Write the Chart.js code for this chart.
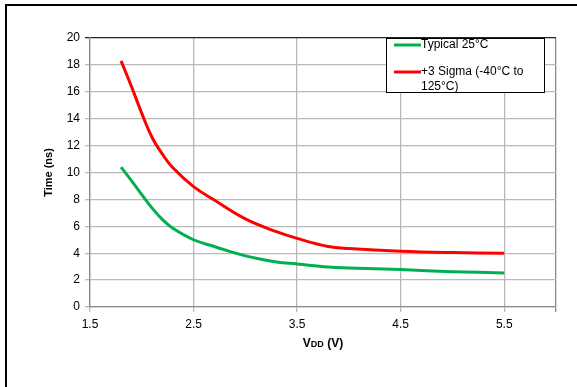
<!DOCTYPE html>
<html>
<head>
<meta charset="utf-8">
<script src="https://cdn.jsdelivr.net/npm/chart.js@4.4.0/dist/chart.umd.min.js"></script>
<style>
	html, body { margin: 0; padding: 0; background: #fff; }
	#wrap { position: relative; width: 577px; height: 387px; }
</style>
</head>
<body>
<div id="wrap"><canvas id="myChart"></canvas></div>
<script>
(() => {
	"use strict";

	// Data
	const vdd = [1.8, 1.9, 2.0, 2.1, 2.2, 2.3, 2.5, 2.7, 3.0, 3.3, 3.5, 3.8, 4.0, 4.5, 5.0, 5.5];
	const typical = [10.4, 9.4, 8.35, 7.35, 6.5, 5.85, 5.0, 4.5, 3.8, 3.35, 3.2, 2.97, 2.9, 2.78, 2.63, 2.53];
	const sigma = [18.3, 16.4, 14.4, 12.6, 11.35, 10.35, 8.95, 7.95, 6.55, 5.6, 5.1, 4.5, 4.35, 4.15, 4.05, 4.0];
	const xTicks = [1.5, 2.5, 3.5, 4.5, 5.5, 6];
	const legendLines = [["Typical 25°C"], ["+3 Sigma (-40°C to", "125°C)"]];

	const FONT = "'Liberation Sans', Arial, sans-serif";
	const GRID = "#bababa";
	const AXIS = "#8a8a8a";

	const points = (ys) => vdd.map((x, i) => ({ x: x, y: ys[i] }));

	// frame, legend and the VDD title
	const extras = {
		id: "extras",
		afterDraw(chart) {
			const c = chart.ctx;
			const area = chart.chartArea;
			c.save();

			// outer frame
			c.strokeStyle = "#000";
			c.lineWidth = 2;
			c.beginPath();
			c.moveTo(6, 387);
			c.lineTo(6, 5);
			c.lineTo(577, 5);
			c.stroke();

			// x title: V + small DD + (V)
			c.fillStyle = "#000";
			c.textBaseline = "alphabetic";
			const parts = [["V", "bold 12px " + FONT], ["DD", "bold 9px " + FONT], [" (V)", "bold 12px " + FONT]];
			let w = 0;
			parts.forEach((p) => { c.font = p[1]; w += c.measureText(p[0]).width; });
			let x = (area.left + area.right) / 2 - w / 2;
			parts.forEach((p) => {
				c.font = p[1];
				c.fillText(p[0], x, 347);
				x += c.measureText(p[0]).width;
			});

			// legend box
			const bx = 386, by = 38, bw = 158, bh = 54;
			c.fillStyle = "#fff";
			c.fillRect(bx, by, bw, bh);
			c.strokeStyle = "#000";
			c.lineWidth = 1;
			c.strokeRect(bx + 0.5, by + 0.5, bw, bh);
			c.font = "12px " + FONT;
			c.textBaseline = "middle";
			const rows = [45, 72];
			chart.data.datasets.forEach((ds, i) => {
				const y = rows[i];
				c.strokeStyle = ds.borderColor;
				c.lineWidth = 3;
				c.beginPath();
				c.moveTo(394, y);
				c.lineTo(421, y);
				c.stroke();
				c.fillStyle = "#000";
				legendLines[i].forEach((t, k) => c.fillText(t, 421, y + k * 14.5));
			});
			c.restore();
		},
	};

	const ctx = document.getElementById("myChart");
	// eslint-disable-next-line no-unused-vars
	const myChart = new Chart(ctx, {
		type: "line",
		data: {
			datasets: [
				{
					label: legendLines[0].join(" "),
					data: points(typical),
					borderColor: "#00b050",
					borderWidth: 3,
					pointRadius: 0,
					tension: 0.4,
					fill: false,
				},
				{
					label: legendLines[1].join(" "),
					data: points(sigma),
					borderColor: "#ff0000",
					borderWidth: 3,
					pointRadius: 0,
					tension: 0.4,
					fill: false,
				},
			],
		},
		options: {
			responsive: true,
			maintainAspectRatio: false,
			animation: false,
			layout: { padding: { left: 0, top: 38, right: 21, bottom: 0 } },
			plugins: {
				legend: { display: false },
				tooltip: { enabled: false },
			},
			scales: {
				x: {
					type: "linear",
					min: 1.5,
					max: 6,
					afterBuildTicks: (s) => { s.ticks = xTicks.map((v) => ({ value: v })); },
					afterFit: (s) => { s.height = 80; },
					ticks: {
						autoSkip: false,
						maxRotation: 0,
						padding: 5,
						color: "#000",
						font: { family: FONT, size: 12 },
						callback: (v) => (v === 6 ? "" : v.toFixed(1)),
					},
					grid: {
						color: (c) => (c.tick && c.tick.value === 6 ? AXIS : GRID),
						lineWidth: 1.3,
						tickLength: 5,
					},
					border: { color: AXIS, width: 1.3 },
				},
				y: {
					min: 0,
					max: 20,
					afterFit: (s) => { s.width = 90; },
					ticks: {
						stepSize: 2,
						padding: 5,
						color: "#000",
						font: { family: FONT, size: 12 },
					},
					grid: {
						color: (c) => (c.tick && c.tick.value === 20 ? "#222" : GRID),
						lineWidth: 1.3,
						tickLength: 5,
					},
					border: { color: AXIS, width: 1.3 },
					title: {
						display: true,
						text: "Time (ns)",
						color: "#000",
						font: { family: FONT, size: 11, weight: "bold" },
						padding: { top: 42, bottom: 0 },
					},
				},
			},
		},
		plugins: [extras],
	});
})();
</script>
</body>
</html>
